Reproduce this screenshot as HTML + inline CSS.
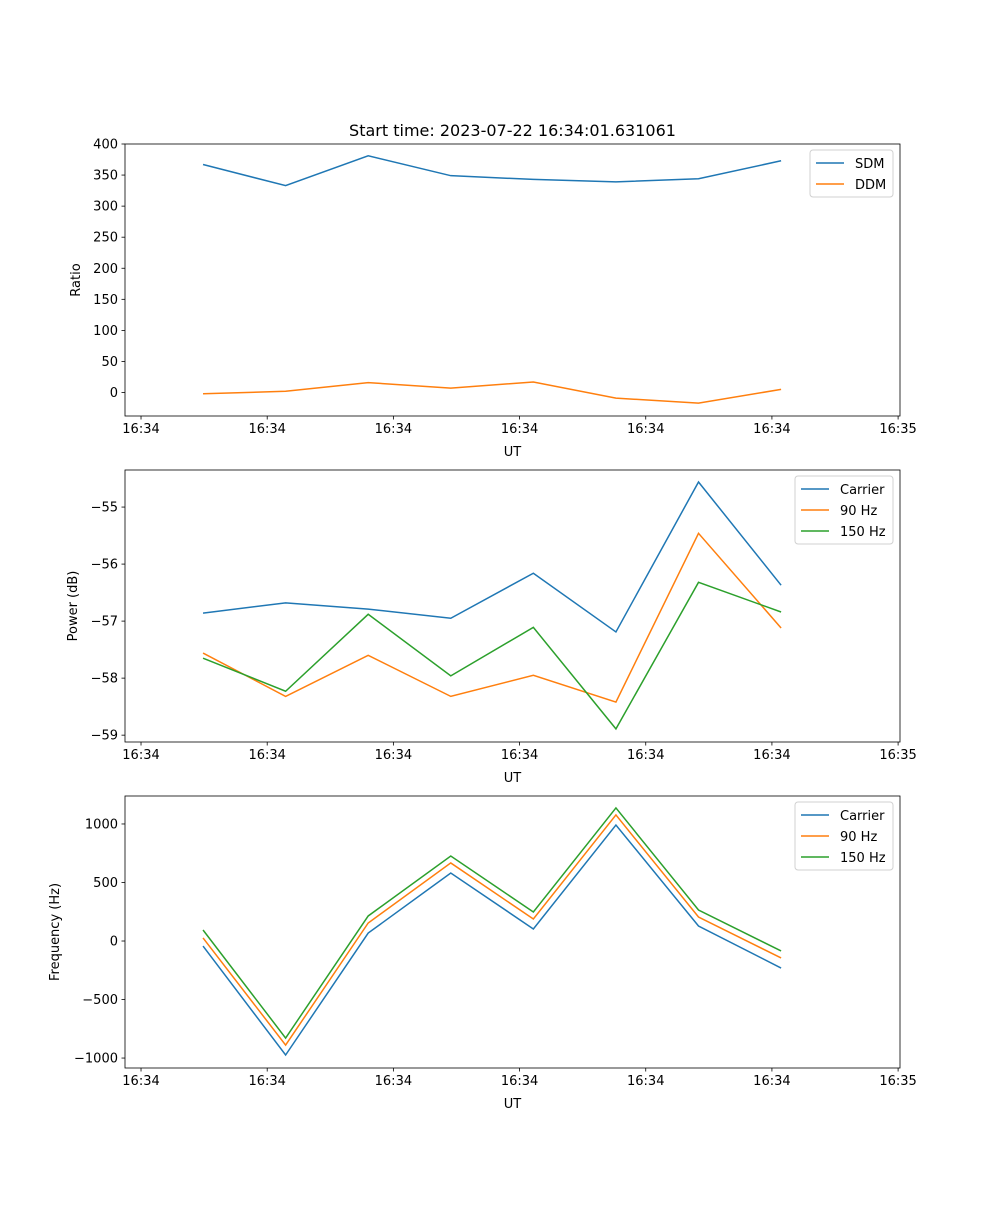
<!DOCTYPE html>
<html><head><meta charset="utf-8"><style>
body{margin:0;background:#fff}
svg text{font-family:"DejaVu Sans","Liberation Sans",sans-serif;fill:#000}
</style></head><body>
<svg id="fig" width="1000" height="1200" xmlns="http://www.w3.org/2000/svg"></svg>
<script>
const points = [0,1,2,3,4,5,6,7];
const tickPos = [-0.751,0.777,2.305,3.833,5.361,6.889,8.417];
const tickLabels = ["16:34","16:34","16:34","16:34","16:34","16:34","16:35"];
const sdm = [367,333,381,349,343,339,344,373];
const ddm = [-2,2,16,7,17,-9,-17,5];
const powCarrier = [-56.86,-56.68,-56.79,-56.95,-56.16,-57.19,-54.56,-56.37];
const pow90 = [-57.56,-58.32,-57.60,-58.32,-57.95,-58.42,-55.46,-57.12];
const pow150 = [-57.65,-58.23,-56.88,-57.96,-57.11,-58.89,-56.32,-56.84];
const freqCarrier = [-43,-974,68,581,103,991,128,-231];
const freq90 = [26,-889,154,667,188,1077,205,-145];
const freq150 = [94,-829,214,726,248,1137,265,-85];
const ticks1 = [0,50,100,150,200,250,300,350,400];
const ticks2 = [-59,-58,-57,-56,-55];
const ticks3 = [-1000,-500,0,500,1000];
const C=["#1f77b4","#ff7f0e","#2ca02c"];
const NS="http://www.w3.org/2000/svg";
const svg=document.getElementById('fig');
function el(t,a,p){const e=document.createElementNS(NS,t);for(const k in a)e.setAttribute(k,a[k]);(p||svg).appendChild(e);return e;}
const L=125,R=900,xmin=-0.945,xmax=8.44;
const sx=v=>L+(v-xmin)/(xmax-xmin)*(R-L);
function panel(name,top,bot,ymin,ymax,yt,ylabel,series,names,legend){
  const g=el('g',{});
  
  
  const sy=v=>bot-(v-ymin)/(ymax-ymin)*(bot-top);
  series.forEach((s,i)=>{
    const p=el('polyline',{points:s.map((v,j)=>sx(points[j])+','+sy(v)).join(' '),fill:'none',stroke:C[i],'stroke-width':1.5},g);
    
    
  });
  el('rect',{x:L,y:top,width:R-L,height:bot-top,fill:'none',stroke:'#000','stroke-width':0.8},g);
  tickPos.forEach((t,i)=>{const x=sx(t);
    el('line',{x1:x,x2:x,y1:bot,y2:bot+3.5,stroke:'#000','stroke-width':0.8},g);
    const tx=el('text',{x:x,y:bot+17,'text-anchor':'middle','font-size':13},g);tx.textContent=tickLabels[i];
    });
  yt.forEach(v=>{const y=sy(v);
    el('line',{x1:L-3.5,x2:L,y1:y,y2:y,stroke:'#000','stroke-width':0.8},g);
    const tx=el('text',{x:L-7,y:y+4.5,'text-anchor':'end','font-size':13},g);tx.textContent=String(v).replace('-','\u2212');
    });
  const xl=el('text',{x:(L+R)/2,y:bot+40,'text-anchor':'middle','font-size':13},g);xl.textContent='UT';
  
  const ym=(top+bot)/2;
  const yl=el('text',{x:0,y:0,'text-anchor':'middle','font-size':13,transform:`translate(${legend.yx},${ym}) rotate(-90)`},g);yl.textContent=ylabel;
  
  const lg=el('g',{},g);
  
  el('rect',{x:legend.x,y:top+6,width:R-7-legend.x,height:names.length*21+5,rx:3,fill:'#fff',stroke:'#ccc','stroke-width':1,opacity:0.9},lg);
  names.forEach((n,i)=>{const y=top+19+i*21;
    el('line',{x1:legend.x+6,x2:legend.x+34,y1:y,y2:y,stroke:C[i],'stroke-width':1.5},lg);
    const t=el('text',{x:legend.x+45,y:y+5,'font-size':13},lg);t.textContent=n;
    });
}
const tt=el('text',{x:512.5,y:136,'text-anchor':'middle','font-size':16});tt.textContent='Start time: 2023-07-22 16:34:01.631061';

panel('ratio-panel',144,416,-37.8,400,ticks1,'Ratio',[sdm,ddm],['SDM','DDM'],{x:810,yx:80});
panel('power-panel',470,742,-59.12,-54.35,ticks2,'Power (dB)',[powCarrier,pow90,pow150],['Carrier','90 Hz','150 Hz'],{x:795,yx:77});
panel('frequency-panel',796,1068,-1085,1239,ticks3,'Frequency (Hz)',[freqCarrier,freq90,freq150],['Carrier','90 Hz','150 Hz'],{x:795,yx:59});
</script>
</body></html>
